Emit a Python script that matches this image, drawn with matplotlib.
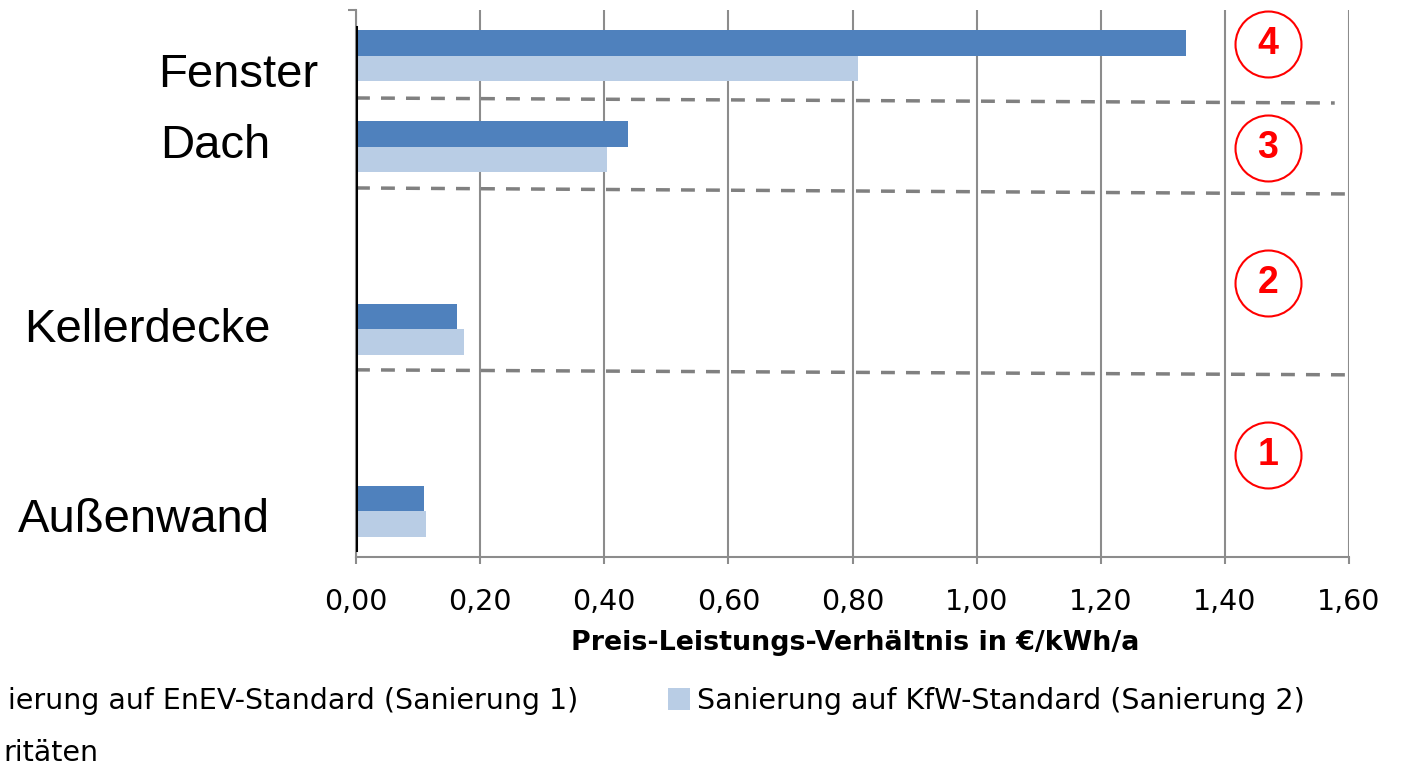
import matplotlib
matplotlib.use("Agg")
import matplotlib.pyplot as plt
from matplotlib.patches import Rectangle

plt.rcParams['font.family'] = ['Liberation Sans', 'DejaVu Sans']

# ---- data ----
categories = ["Außenwand", "", "Kellerdecke", "", "Dach", "Fenster"]
sanierung1 = [0.11, None, 0.163, None, 0.438, 1.337]   # EnEV-Standard
sanierung2 = [0.113, None, 0.174, None, 0.404, 0.809]  # KfW-Standard
xticks = [0.0, 0.2, 0.4, 0.6, 0.8, 1.0, 1.2, 1.4, 1.6]
xticklabels = ["0,00", "0,20", "0,40", "0,60", "0,80", "1,00", "1,20", "1,40", "1,60"]
priorities = ["1", "2", "3", "4"]
priority_y = [0.621, 2.507, 3.987, 5.127]
priority_x = 1.4695
dash_lines = [((0.0, 4.535), (1.577, 4.48)),
              ((0.0, 3.548), (1.60, 3.482)),
              ((0.0, 1.553), (1.60, 1.498))]
# legend texts as visible in the (left-cropped) original
legend_labels = ["ierung auf EnEV-Standard (Sanierung 1)",
                 "Sanierung auf KfW-Standard (Sanierung 2)",
                 "ritäten"]

dark = "#4F81BD"
light = "#B9CDE5"
grid_c = "#8C8C8C"
wide_font = ['DejaVu Sans']

W, H = 1401, 767
fig = plt.figure(figsize=(W / 100, H / 100), dpi=100)
ax = fig.add_axes([356 / W, 1 - 557 / H, (1349 - 356) / W, (557 - 10) / H])

bh = 0.28
for i, (a, b) in enumerate(zip(sanierung1, sanierung2)):
    if a is not None:
        ax.barh(i + bh / 2, a, height=bh, color=dark, edgecolor="none", zorder=3)
    if b is not None:
        ax.barh(i - bh / 2, b, height=bh, color=light, edgecolor="none", zorder=3)

ax.set_xlim(0, 1.6)
ax.set_ylim(-0.5, len(categories) - 0.5)
ax.set_xticks(xticks)
ax.set_xticklabels(xticklabels, fontsize=20.5, family=wide_font)
ax.tick_params(axis="x", direction="out", length=5, width=1.5, color=grid_c, pad=17)
ax.set_yticks([])
ax.set_yticks([len(categories) - 0.5], minor=True)
ax.tick_params(axis="y", which="minor", direction="out", length=6, width=1.5, color=grid_c)
ax.xaxis.grid(True, color=grid_c, linewidth=1.5, zorder=1)
for s in ["top", "right"]:
    ax.spines[s].set_visible(False)
ax.spines["bottom"].set_color(grid_c)
ax.spines["bottom"].set_linewidth(1.5)
ax.spines["left"].set_color(grid_c)
ax.spines["left"].set_linewidth(1.5)
# black vertical axis line
ax.axvline(0, ymin=(557 - 550) / 547, ymax=(557 - 27) / 547, color="black",
           linewidth=2.2, zorder=4)

for (x0, y0), (x1, y1) in dash_lines:
    ax.plot([x0, x1], [y0, y1], color="#808080", linewidth=2.5,
            dashes=(4, 3.2), zorder=2, clip_on=False)

for lab, y in zip(priorities, priority_y):
    ax.plot([priority_x], [y], marker="o", markersize=47.5, markerfacecolor="none",
            markeredgecolor="red", markeredgewidth=1.5, zorder=5, clip_on=False)
    ax.text(priority_x, y, lab, color="red", fontsize=27, fontweight="bold",
            ha="center", va="center", zorder=6)

# category labels (manually placed as in the original)
label_pos = {"Fenster": (158, 87), "Dach": (270, 158),
             "Kellerdecke": (270, 342), "Außenwand": (270, 532)}
for name, (px, py) in label_pos.items():
    ha = "left" if name == "Fenster" else "right"
    fig.text(px / W, 1 - py / H, name, fontsize=34, ha=ha, va="baseline")

fig.text(855 / W, 1 - 650 / H, "Preis-Leistungs-Verhältnis in €/kWh/a",
         fontsize=19.4, fontweight="bold", ha="center", va="baseline", family=wide_font)

# legend (cropped at the left in the original)
fig.text(578 / W, 1 - 709 / H, legend_labels[0], fontsize=20.5, ha="right",
         va="baseline", family=wide_font)
fig.patches.append(Rectangle((668 / W, 1 - 710 / H), 22 / W, 22 / H, transform=fig.transFigure,
                             facecolor=light, edgecolor="none"))
fig.text(697 / W, 1 - 709 / H, legend_labels[1], fontsize=20.5, ha="left",
         va="baseline", family=wide_font)
fig.text(3 / W, 1 - 761 / H, legend_labels[2], fontsize=20.5, ha="left",
         va="baseline", family=wide_font)

fig.savefig("out.png", dpi=100)
